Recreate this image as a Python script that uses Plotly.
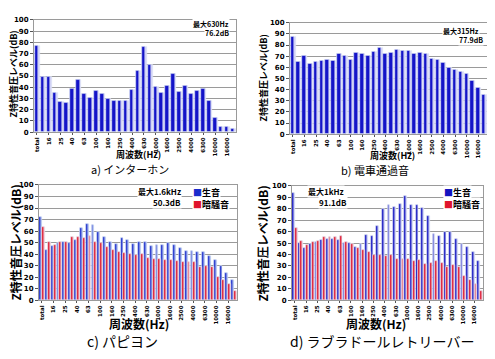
import plotly.graph_objects as go

# The page body has an 8px default margin, so the figure is drawn 8px in from the window edge.
OFF = 8
W, H = 495 - OFF, 359 - OFF

bands = ["total", "12.5", "16", "20", "25", "31.5", "40", "50", "63", "80", "100", "125", "160",
         "200", "250", "315", "400", "500", "630", "800", "1000", "1250", "1600", "2000", "2500",
         "3150", "4000", "5000", "6300", "8000", "10000", "12500", "16000", "20000"]
tick_labels = bands[::2]

interphone = [77, 49, 49, 35, 27, 26, 39, 47, 34, 31, 37, 34, 30, 28, 28, 28, 38, 55, 76, 60,
              40, 35, 41, 52, 36, 41, 34, 37, 39, 28, 13, 5, 5, 3]
train = [87, 65, 70, 63, 65, 66, 67, 66, 72, 70, 67, 73, 72, 70, 74, 78, 72, 73, 76, 75,
         75, 72, 73, 72, 68, 67, 64, 60, 58, 56, 54, 48, 42, 35]
papillon_live = [72, 44, 47, 50, 51, 50, 52, 63, 66, 65, 59, 55, 51, 49, 54, 52, 49, 51, 51, 47,
                 48, 48, 50, 48, 45, 43, 43, 42, 42, 38, 35, 30, 24, 18]
papillon_bg = [64, 51, 48, 51, 51, 55, 55, 54, 56, 51, 50, 46, 44, 42, 41, 40, 39, 40, 37, 36,
               36, 35, 35, 34, 33, 33, 33, 29, 30, 29, 20, 18, 14, 8]
labrador_live = [94, 50, 46, 49, 51, 53, 54, 54, 53, 50, 50, 47, 49, 57, 56, 65, 80, 83, 82, 84,
                 91, 83, 83, 81, 74, 58, 56, 60, 60, 54, 49, 47, 42, 34]
labrador_bg = [63, 52, 48, 51, 52, 55, 55, 55, 56, 51, 49, 46, 44, 42, 40, 40, 39, 40, 36, 36,
               36, 34, 35, 32, 33, 34, 33, 29, 31, 29, 21, 18, 14, 8]
series_names = ["生音", "暗騒音"]

FONT = "Noto Sans CJK JP"
GRID = "#9a9a9a"
RED = "#e0142c"

def px(x):
    return (x - OFF) / W

def py(y):
    return 1 - (y - OFF) / H

fig = go.Figure()

def add_single(vals, ax):
    xa, ya = ("x", "y") if ax == 1 else (f"x{ax}", f"y{ax}")
    fig.add_trace(go.Bar(x=bands, y=vals, xaxis=xa, yaxis=ya, marker_color="#cfcff5",
                         width=0.85, offset=-0.38, showlegend=False, hoverinfo="skip"))
    fig.add_trace(go.Bar(x=bands, y=vals, xaxis=xa, yaxis=ya, marker_color="#1414c8",
                         width=0.6, offset=-0.38, showlegend=False))

def add_pair(live, bg, ax, dark_blue, light_blue):
    xa, ya = f"x{ax}", f"y{ax}"
    fig.add_trace(go.Bar(x=bands, y=live, xaxis=xa, yaxis=ya, marker_color=light_blue,
                         width=0.48, offset=-0.48, showlegend=False, hoverinfo="skip"))
    fig.add_trace(go.Bar(x=bands, y=live, xaxis=xa, yaxis=ya, marker_color=dark_blue,
                         width=0.32, offset=-0.48, name=series_names[0], showlegend=False))
    fig.add_trace(go.Bar(x=bands, y=bg, xaxis=xa, yaxis=ya, marker_color="#f3b3c0",
                         width=0.48, offset=0.0, showlegend=False, hoverinfo="skip"))
    fig.add_trace(go.Bar(x=bands, y=bg, xaxis=xa, yaxis=ya, marker_color=RED,
                         width=0.34, offset=0.0, name=series_names[1], showlegend=False))

add_single(interphone, 1)
add_single(train, 2)
add_pair(papillon_live, papillon_bg, 3, "#1a2ccc", "#7f9ae6")
add_pair(labrador_live, labrador_bg, 4, "#1414c0", "#b8b8ee")

domains = {
    1: ([px(34), px(236)], [py(131), py(16)]),
    2: ([px(290), px(487)], [py(133), py(19)]),
    3: ([px(39), px(237)], [py(303), py(185)]),
    4: ([px(292), px(483)], [py(303), py(186)]),
}

layout = dict(
    width=W, height=H, margin=dict(l=0, r=0, t=0, b=0),
    paper_bgcolor="white", plot_bgcolor="white",
    barmode="overlay", bargap=0, showlegend=False,
    font=dict(family=FONT, color="black"),
)
for i, (dx, dy) in domains.items():
    sx = "" if i == 1 else str(i)
    layout[f"xaxis{sx}"] = dict(
        domain=dx, anchor=f"y{sx}", type="category", categoryorder="array",
        categoryarray=bands, tickmode="array", tickvals=tick_labels, ticktext=tick_labels,
        tickangle=-90, tickfont=dict(size=5.5, weight="bold", family="DejaVu Sans"),
        showline=True, linecolor=GRID, linewidth=1, mirror=True,
        ticks="outside", ticklen=2, tickcolor="#555", showgrid=False, fixedrange=True)
    layout[f"yaxis{sx}"] = dict(
        domain=dy, anchor=f"x{sx}", range=[0, 100], dtick=10,
        tickfont=dict(size=7, weight="bold", family="DejaVu Sans"),
        showline=True, linecolor=GRID, linewidth=1, mirror=True,
        ticks="outside", ticklen=3, tickcolor="#555",
        showgrid=True, gridcolor=GRID, gridwidth=1, zeroline=False, fixedrange=True)
fig.update_layout(**layout)

def note(text, x, y, size, xanchor="center", angle=0, bold=False, bg=None):
    fig.add_annotation(text=f"<b>{text}</b>" if bold else text, x=px(x), y=py(y),
                       xref="paper", yref="paper", xanchor=xanchor, yanchor="middle",
                       showarrow=False, textangle=angle, font=dict(size=size, family=FONT),
                       bgcolor=bg, borderpad=0)

ytitle = "Z特性音圧レベル(dB)"
note(ytitle, 14, 72, 9, angle=-90, bold=True)
note(ytitle, 263, 76, 9, angle=-90, bold=True)
note(ytitle, 16, 244, 12, angle=-90, bold=True)
note(ytitle, 263, 245, 12, angle=-90, bold=True)

note("周波数(Hz)", 138, 154, 9, bold=True)
note("周波数(Hz)", 392, 155, 9, bold=True)
note("周波数(Hz)", 139, 327, 12, bold=True)
note("周波数(Hz)", 376, 327, 12, bold=True)

note("a) インターホン", 130, 169, 11)
note("b) 電車通過音", 375, 170, 11)
note("c) パピヨン", 122, 345, 14)
note("d) ラブラドールレトリーバー", 382, 345, 14)

note("最大630Hz", 230, 20, 7, xanchor="right", bold=True, bg="white")
note("76.2dB", 230, 30, 7, xanchor="right", bold=True, bg="white")
note("最大315Hz", 480, 27, 7, xanchor="right", bold=True, bg="white")
note("77.9dB", 484, 37, 7, xanchor="right", bold=True, bg="white")
note("最大1.6kHz", 182, 192, 8, xanchor="right", bold=True, bg="white")
note("50.3dB", 182, 203, 8, xanchor="right", bold=True, bg="white")
note("最大1kHz", 307, 192, 8, xanchor="left", bold=True, bg="white")
note("91.1dB", 318, 203, 8, xanchor="left", bold=True, bg="white")

def legend_note(x, blue):
    note(f"<span style='color:{blue}'>■</span>{series_names[0]}", x, 193, 9,
         xanchor="left", bold=True, bg="white")
    note(f"<span style='color:{RED}'>■</span>{series_names[1]}", x, 205, 9,
         xanchor="left", bold=True, bg="white")

legend_note(192, "#1a2ccc")
legend_note(443, "#1414c0")

fig.write_html("out.html")
